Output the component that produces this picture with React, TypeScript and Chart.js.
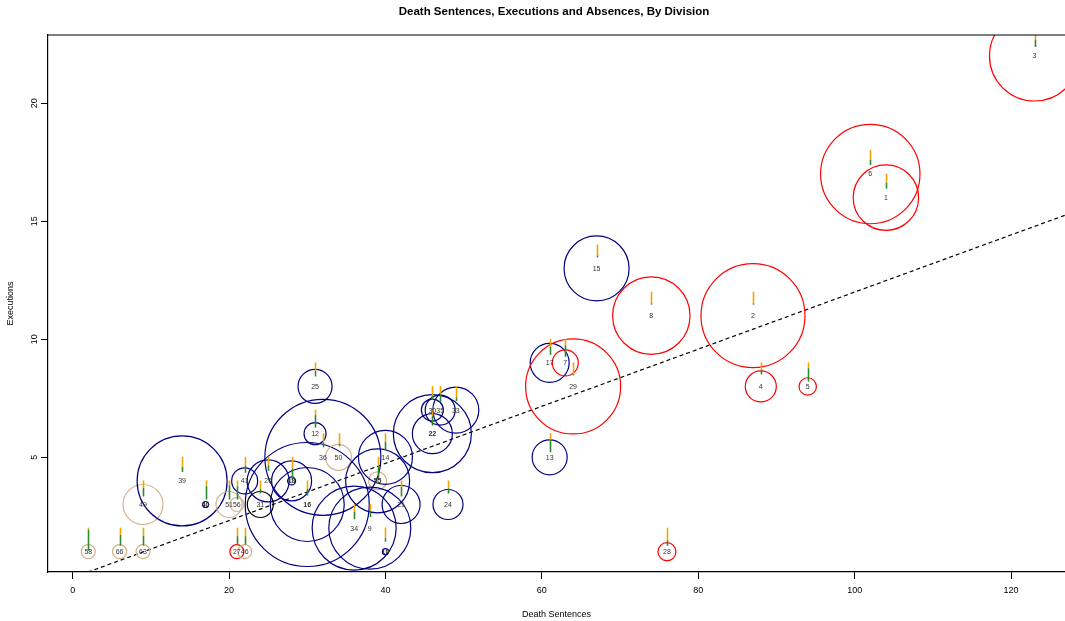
import React, { useEffect, useRef } from "react";
import { Chart, registerables } from "chart.js";

Chart.register(...registerables);

// ---- data ----
const divisionLabels = ["58","66","63","49","39","40","51","56","27","46","41","31","26","18","16","25","12","36","50","34","9","55","14","10","21","30","35","33","22","24","17","7","29","13","15","8","2","4","5","6","1","3","28"];
const deathSentences = [2,6,9,9,14,17,20,21,21,22,22,24,25,28,30,31,31,32,34,36,38,39,40,40,42,46,47,49,46,48,61,63,64,61,67,74,87,88,94,102,104,123,76];
const executions = [1,1,1,3,4,3,3,3,1,1,4,3,4,4,3,8,6,5,5,2,2,4,5,1,3,7,7,7,6,3,9,9,8,5,13,11,11,8,8,17,16,22,1];
const absenceRadius = [7,7,7,20,45,3,13,7,7,7,13,13,21,20,62,17,11,58,13,42,41,32,27,3,19,11,15,23,20,15,19.5,13,47.5,17.5,32.5,38.7,52,15.5,8.7,49.7,32.7,45,9];
const divisionGroup = ["tan","tan","tan","tan","navy","navy","tan","tan","red","tan","navy","black","navy","navy","navy","navy","navy","navy","tan","navy","navy","navy","navy","navy","navy","navy","navy","navy","navy","navy","navy","red","red","navy","navy","red","red","red","red","red","red","red","red"];
const overplotted = ["40","18","16","55","10","22"];
const thermoLength = [23,18,18,16,15,19,19,19,17,17,16,13,14,23,15,14,18,14,13,15,13,23,17,14,16,14,16,15,16,13,16,18,13,19,13,13,13,12,19,15,15,15,18];
const greenShare = [0.9,0.6,0.55,0.55,0.35,0.7,0.75,0.7,0.5,0.5,0.45,0.35,0.4,0.5,0.45,0.4,0.7,0.35,0.15,0.5,0.5,0.6,0.5,0.25,0.6,0.3,0.5,0.25,0.6,0.4,0.5,0.65,0.1,0.65,0.15,0.1,0.1,0.4,0.7,0.35,0.4,0.5,0.3];

// second circles of overplotted divisions
const extraSentences = [28,30,39,46];
const extraExecutions = [4,3,4,6];
const extraRadius = [4,37,9,39];
const extraGroup = ["navy","navy","tan","navy"];

const xTicks = [0,20,40,60,80,100,120];
const yTicks = [5,10,15,20];
const X_MIN = -3.15;
const X_MAX = 126.9;
const Y_MIN = 0.14;
const Y_MAX = 22.89;
const fitIntercept = -0.1;
const fitSlope = 0.121;

const palette: Record<string, string> = {
  red: "#ff0000",
  navy: "#000080",
  tan: "#d2b48c",
  black: "#000000",
};

const FONT = "'Liberation Sans', Arial, Helvetica, sans-serif";
const TITLE = "Death Sentences, Executions and Absences, By Division";

const overlayPlugin = {
  id: "overlay",
  afterDatasetsDraw(chart: any) {
    const { ctx, chartArea, scales } = chart;
    const xs = scales.x;
    const ys = scales.y;
    ctx.save();
    ctx.beginPath();
    ctx.rect(chartArea.left, chartArea.top, chartArea.right - chartArea.left, chartArea.bottom - chartArea.top);
    ctx.clip();
    ctx.lineWidth = 1.6;
    ctx.lineCap = "butt";
    for (let i = 0; i < divisionLabels.length; i++) {
      const px = Math.round(xs.getPixelForValue(deathSentences[i])) + 0.5;
      const py = ys.getPixelForValue(executions[i]);
      const top = py - 24;
      const len = thermoLength[i];
      const split = top + len * (1 - greenShare[i]);
      ctx.strokeStyle = "#f5a300";
      ctx.beginPath();
      ctx.moveTo(px, top);
      ctx.lineTo(px, split);
      ctx.stroke();
      ctx.strokeStyle = "#2f8a2f";
      ctx.beginPath();
      ctx.moveTo(px, split);
      ctx.lineTo(px, top + len);
      ctx.stroke();
    }
    ctx.fillStyle = "#333333";
    ctx.textAlign = "center";
    ctx.textBaseline = "middle";
    for (let i = 0; i < divisionLabels.length; i++) {
      const px = xs.getPixelForValue(deathSentences[i]);
      const py = ys.getPixelForValue(executions[i]);
      const bold = overplotted.includes(divisionLabels[i]);
      ctx.font = `${bold ? "bold " : ""}7px ${FONT}`;
      ctx.fillText(divisionLabels[i], px, py + 0.5);
    }
    ctx.restore();
  },
  afterDraw(chart: any) {
    const { ctx, chartArea } = chart;
    ctx.save();
    ctx.strokeStyle = "#000";
    ctx.lineWidth = 1.2;
    ctx.beginPath();
    ctx.moveTo(chartArea.left, chartArea.top);
    ctx.lineTo(chartArea.right, chartArea.top);
    ctx.stroke();
    ctx.fillStyle = "#000";
    ctx.font = `bold 11.5px ${FONT}`;
    ctx.textAlign = "center";
    ctx.textBaseline = "middle";
    ctx.fillText(TITLE, chartArea.left + 506, 12);
    ctx.restore();
  },
};

const fixScale = (size: { width?: number; height?: number }) => (s: any) => {
  if (size.width !== undefined) s.width = size.width;
  if (size.height !== undefined) s.height = size.height;
  s.paddingLeft = 0;
  s.paddingRight = 0;
  s.paddingTop = 0;
  s.paddingBottom = 0;
};

export default function App() {
  const ref = useRef<HTMLCanvasElement | null>(null);

  useEffect(() => {
    if (!ref.current) return;
    Chart.defaults.font.family = FONT;
    const chart = new Chart(ref.current, {
      type: "bubble",
      data: {
        datasets: [
          {
            type: "bubble",
            data: deathSentences.map((x, i) => ({ x, y: executions[i], r: absenceRadius[i] })),
            borderColor: divisionGroup.map((g) => palette[g]),
            backgroundColor: "rgba(0,0,0,0)",
            borderWidth: 1.2,
            hoverRadius: 0,
          } as any,
          {
            type: "bubble",
            data: extraSentences.map((x, i) => ({ x, y: extraExecutions[i], r: extraRadius[i] })),
            borderColor: extraGroup.map((g) => palette[g]),
            backgroundColor: "rgba(0,0,0,0)",
            borderWidth: 1.2,
            hoverRadius: 0,
          } as any,
          {
            type: "line",
            data: [X_MIN - 5, X_MAX + 5].map((x) => ({ x, y: fitIntercept + fitSlope * x })),
            borderColor: "#000",
            borderWidth: 1.2,
            borderDash: [4, 3],
            pointRadius: 0,
            fill: false,
          } as any,
        ],
      },
      options: {
        animation: false,
        responsive: true,
        maintainAspectRatio: false,
        events: [],
        layout: { padding: { top: 35, left: 0, right: 0, bottom: 0 }, autoPadding: false },
        plugins: {
          legend: { display: false },
          tooltip: { enabled: false },
          title: { display: false },
        },
        scales: {
          x: {
            type: "linear",
            min: X_MIN,
            max: X_MAX,
            afterBuildTicks: (axis: any) => {
              axis.ticks = xTicks.map((v) => ({ value: v }));
            },
            afterFit: fixScale({ height: 49 }),
            grid: { drawOnChartArea: false, drawTicks: true, tickLength: 7, color: "#000", lineWidth: 1 },
            border: { display: true, color: "#000", width: 1.2 },
            ticks: { padding: 6, color: "#000", maxRotation: 0, minRotation: 0, font: { size: 9, family: FONT } },
            title: {
              display: true,
              text: "Death Sentences",
              color: "#000",
              font: { size: 9, family: FONT },
              padding: { top: 0, bottom: 1.5 },
            },
          },
          y: {
            type: "linear",
            min: Y_MIN,
            max: Y_MAX,
            afterBuildTicks: (axis: any) => {
              axis.ticks = yTicks.map((v) => ({ value: v }));
            },
            afterFit: fixScale({ width: 48 }),
            grid: { drawOnChartArea: false, drawTicks: true, tickLength: 7, color: "#000", lineWidth: 1 },
            border: { display: true, color: "#000", width: 1.2 },
            ticks: {
              padding: 1.5,
              color: "#000",
              minRotation: 90,
              maxRotation: 90,
              crossAlign: "center",
              font: { size: 9, family: FONT },
            },
            title: {
              display: true,
              text: "Executions",
              color: "#000",
              font: { size: 9, family: FONT },
              padding: { top: 5.6, bottom: 0 },
            },
          },
        },
      } as any,
      plugins: [overlayPlugin],
    });
    return () => chart.destroy();
  }, []);

  return (
    <div style={{ position: "fixed", left: 0, top: 0, width: 1065, height: 621, background: "#fff" }}>
      <canvas ref={ref} />
    </div>
  );
}
